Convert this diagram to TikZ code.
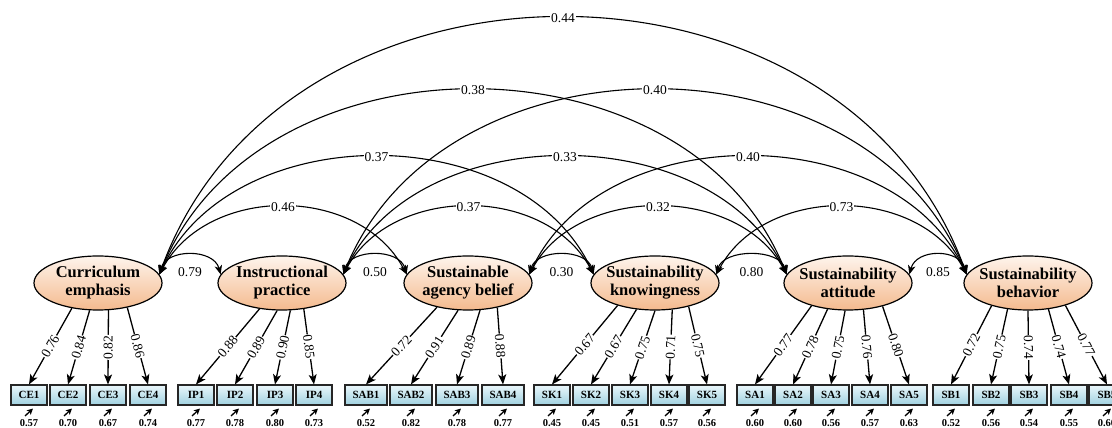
\documentclass[tikz,border=0pt]{standalone}
\usepackage{fontspec}
\setmainfont{Liberation Serif}
\usetikzlibrary{shapes.geometric,arrows.meta,calc}
\definecolor{elltop}{RGB}{254,244,236}
\definecolor{ellbot}{RGB}{244,186,142}
\definecolor{boxtop}{RGB}{234,247,251}
\definecolor{boxbot}{RGB}{160,209,224}
\begin{document}
\begin{tikzpicture}[x=1pt,y=1pt,
  latent/.style={ellipse, draw, line width=1.2pt, minimum width=128pt, minimum height=54pt,
    inner xsep=-4pt, inner ysep=0pt, align=center, top color=elltop, bottom color=ellbot,
    font=\fontsize{16.5}{18}\selectfont\bfseries},
  ind/.style={rectangle, draw=black!85, line width=1.1pt, minimum width=36pt, minimum height=20pt,
    inner sep=0pt, top color=boxtop, bottom color=boxbot, font=\fontsize{11}{12}\selectfont\bfseries},
  wideind/.style={ind, minimum width=42pt},
  errv/.style={font=\fontsize{10.5}{12}\selectfont\bfseries, inner sep=0pt},
  load/.style={-{Stealth[length=10pt,width=8pt,inset=2.5pt]}, line width=1.3pt},
  ll/.style={midway, sloped, fill=white, inner sep=0.6pt, font=\fontsize{13.5}{15}\selectfont},
  cov/.style={{Stealth[length=9pt,width=7.5pt,inset=2.5pt]}-{Stealth[length=9pt,width=7.5pt,inset=2.5pt]}, line width=1.1pt},
  cl/.style={midway, fill=white, inner sep=1pt, font=\fontsize{13.5}{15}\selectfont},
  sl/.style={midway, yshift=-17pt, inner sep=0pt, font=\fontsize{13.5}{15}\selectfont},
  errarr/.style={-{Stealth[length=6pt,width=6pt,inset=1.5pt]}, line width=1.3pt},
]
\clip (0,0) rectangle (1112,428);

% latent variables
\node[latent] (CE)  at (98,145)   {Curriculum\\emphasis};
\node[latent] (IP)  at (282,145)  {Instructional\\practice};
\node[latent] (SAB) at (468,145)  {Sustainable\\agency belief};
\node[latent] (SK)  at (655,145)  {Sustainability\\knowingness};
\node[latent] (SA)  at (848,145)  {Sustainability\\attitude};
\node[latent] (SB)  at (1028,145) {Sustainability\\behavior};

% indicators
\foreach \n/\x/\e in {1/29/0.57, 2/68/0.70, 3/108/0.67, 4/148/0.74}{
  \node[ind] (CE\n) at (\x,33) {CE\n};
  \node[errv] (eCE\n) at (\x,5) {\e};
  \coordinate (tCE\n) at (\x-4,12);
  \draw[errarr] (tCE\n) -- ($(CE\n.south)+(4,-3)$);}
\foreach \n/\x/\e in {1/196/0.77, 2/235/0.78, 3/275/0.80, 4/314/0.73}{
  \node[ind] (IP\n) at (\x,33) {IP\n};
  \node[errv] (eIP\n) at (\x,5) {\e};
  \coordinate (tIP\n) at (\x-4,12);
  \draw[errarr] (tIP\n) -- ($(IP\n.south)+(4,-3)$);}
\foreach \n/\x/\e in {1/366/0.52, 2/411/0.82, 3/457/0.78, 4/503/0.77}{
  \node[wideind] (SAB\n) at (\x,33) {SAB\n};
  \node[errv] (eSAB\n) at (\x,5) {\e};
  \coordinate (tSAB\n) at (\x-4,12);
  \draw[errarr] (tSAB\n) -- ($(SAB\n.south)+(4,-3)$);}
\foreach \n/\x/\e in {1/552/0.45, 2/591/0.45, 3/630/0.51, 4/669/0.57, 5/707/0.56}{
  \node[ind] (SK\n) at (\x,33) {SK\n};
  \node[errv] (eSK\n) at (\x,5) {\e};
  \coordinate (tSK\n) at (\x-4,12);
  \draw[errarr] (tSK\n) -- ($(SK\n.south)+(4,-3)$);}
\foreach \n/\x/\e in {1/755/0.60, 2/793/0.60, 3/831/0.56, 4/870/0.57, 5/909/0.63}{
  \node[ind] (SA\n) at (\x,33) {SA\n};
  \node[errv] (eSA\n) at (\x,5) {\e};
  \coordinate (tSA\n) at (\x-4,12);
  \draw[errarr] (tSA\n) -- ($(SA\n.south)+(4,-3)$);}
\foreach \n/\x/\e in {1/951/0.52, 2/991/0.56, 3/1029/0.54, 4/1069/0.55, 5/1107/0.60}{
  \node[ind] (SB\n) at (\x,33) {SB\n};
  \node[errv] (eSB\n) at (\x,5) {\e};
  \coordinate (tSB\n) at (\x-4,12);
  \draw[errarr] (tSB\n) -- ($(SB\n.south)+(4,-3)$);}

% loadings
\foreach \n/\a/\v in {1/224/0.76, 2/253/0.84, 3/291/0.82, 4/320/0.86}
  \draw[load] (CE.\a) -- node[ll]{\v} (CE\n.north);
\foreach \n/\a/\v in {1/229/0.88, 2/260/0.89, 3/287/0.90, 4/310/0.85}
  \draw[load] (IP.\a) -- node[ll]{\v} (IP\n.north);
\foreach \n/\a/\v in {1/218/0.72, 2/250/0.91, 3/294/0.89, 4/320/0.88}
  \draw[load] (SAB.\a) -- node[ll]{\v} (SAB\n.north);
\foreach \n/\a/\v in {1/211/0.67, 2/235/0.67, 3/270/0.75, 4/303/0.71, 5/325/0.75}
  \draw[load] (SK.\a) -- node[ll]{\v} (SK\n.north);
\foreach \n/\a/\v in {1/212/0.77, 2/232/0.78, 3/264/0.75, 4/300/0.76, 5/326/0.80}
  \draw[load] (SA.\a) -- node[ll]{\v} (SA\n.north);
\foreach \n/\a/\v in {1/212/0.72, 2/232/0.75, 3/270/0.74, 4/308/0.74, 5/329/0.77}
  \draw[load] (SB.\a) -- node[ll]{\v} (SB\n.north);

% adjacent covariances
\draw[cov] (CE.8)  to[out=75,in=105,distance=27] node[sl]{0.79} (IP.172);
\draw[cov] (IP.8)  to[out=75,in=105,distance=27] node[sl]{0.50} (SAB.172);
\draw[cov] (SAB.8) to[out=75,in=105,distance=27] node[sl]{0.30} (SK.172);
\draw[cov] (SK.8)  to[out=75,in=105,distance=27] node[sl]{0.80} (SA.172);
\draw[cov] (SA.8)  to[out=75,in=105,distance=27] node[sl]{0.85} (SB.172);

% long covariances
\draw[cov] (CE.8)  to[out=70,in=110,distance=364] node[cl]{0.44} (SB.172);
\draw[cov] (CE.8)  to[out=68,in=112,distance=265] node[cl]{0.38} (SA.172);
\draw[cov] (IP.8)  to[out=68,in=112,distance=265] node[cl]{0.40} (SB.172);
\draw[cov] (CE.8)  to[out=65,in=115,distance=173] node[cl]{0.37} (SK.172);
\draw[cov] (IP.8)  to[out=65,in=115,distance=173] node[cl]{0.33} (SA.172);
\draw[cov] (SAB.8) to[out=65,in=115,distance=173] node[cl]{0.40} (SB.172);
\draw[cov] (CE.8)  to[out=62,in=118,distance=102] node[cl]{0.46} (SAB.172);
\draw[cov] (IP.8)  to[out=62,in=118,distance=102] node[cl]{0.37} (SK.172);
\draw[cov] (SAB.8) to[out=62,in=118,distance=102] node[cl]{0.32} (SA.172);
\draw[cov] (SK.8)  to[out=62,in=118,distance=102] node[cl]{0.73} (SB.172);
\end{tikzpicture}
\end{document}
